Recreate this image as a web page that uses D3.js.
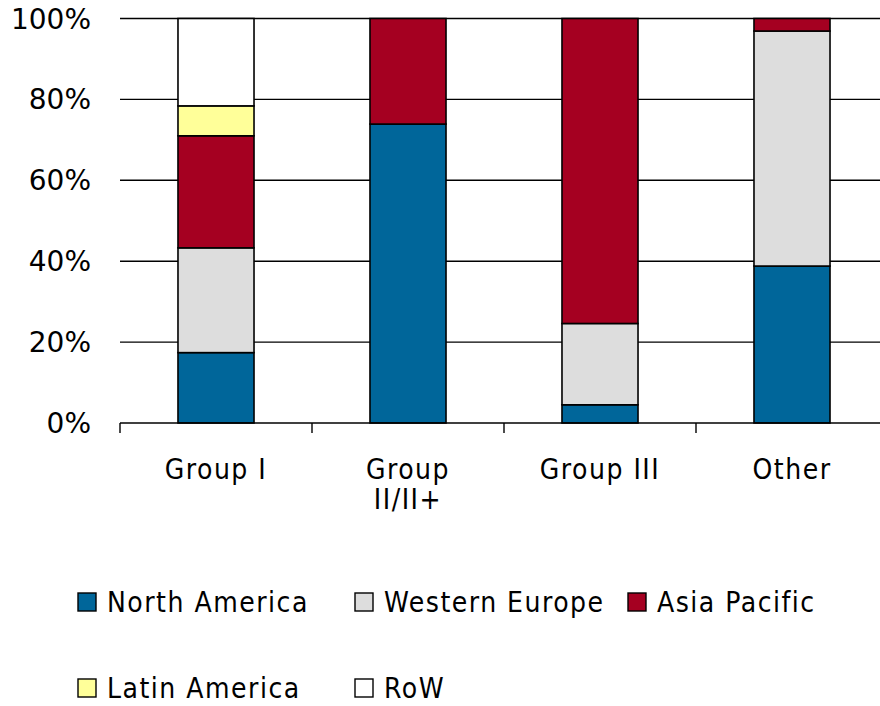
<!DOCTYPE html>
<html><head><meta charset="utf-8">
<script src="https://cdn.jsdelivr.net/npm/d3@7"></script>
<style>
html,body{margin:0;padding:0;background:#fff;}
svg{display:block;}
.nar{font-family:"Liberation Sans Narrow","DejaVu Sans Condensed","Liberation Sans",sans-serif;}
</style></head>
<body>
<svg id="c" width="880" height="706"></svg>
<script>
const categories = ["Group I", "Group II/II+", "Group III", "Other"];
const categoryLabelLines = [["Group I"], ["Group", "II/II+"], ["Group III"], ["Other"]];
const seriesNames = ["North America", "Western Europe", "Asia Pacific", "Latin America", "RoW"];
const northAmerica  = [17.4, 73.9, 4.5, 38.8];
const westernEurope = [25.9, 0, 20.1, 58.1];
const asiaPacific   = [27.7, 26.1, 75.4, 3.1];
const latinAmerica  = [7.4, 0, 0, 0];
const row           = [21.6, 0, 0, 0];
const yTicks = [0, 20, 40, 60, 80, 100];
const colors = ["#00669A", "#DDDDDD", "#A50021", "#FFFF99", "#FFFFFF"];

(function () {
const seriesValues = [northAmerica, westernEurope, asiaPacific, latinAmerica, row];
const table = categories.map((c, i) => {
  const o = {category: c};
  seriesNames.forEach((s, j) => o[s] = seriesValues[j][i]);
  return o;
});

const svg = d3.select("#c");
const pLeft = 120, pRight = 888, pTop = 18.5, pBottom = 423;
const x = d3.scaleBand().domain(categories).range([pLeft, pRight]).paddingInner(0.604).paddingOuter(0.302);
const y = d3.scaleLinear().domain([0, 100]).range([pBottom, pTop]);
const color = d3.scaleOrdinal().domain(seriesNames).range(colors);

svg.append("g").selectAll("line").data(yTicks.filter(t => t > 0)).join("line")
  .attr("x1", pLeft).attr("x2", 880)
  .attr("y1", d => y(d)).attr("y2", d => y(d))
  .attr("stroke", "#000").attr("stroke-width", 1.4);

svg.append("g").selectAll("text").data(yTicks).join("text")
  .attr("x", 91).attr("y", d => y(d) + 10)
  .attr("text-anchor", "end")
  .style("font-family", "'DejaVu Sans', sans-serif").style("font-size", "28px")
  .attr("fill", "#000")
  .text(d => d + "%");

const stacked = d3.stack().keys(seriesNames)(table);
svg.append("g").selectAll("g").data(stacked).join("g")
  .attr("fill", d => color(d.key))
  .selectAll("rect").data(d => d.filter(p => p[1] - p[0] > 0)).join("rect")
  .attr("x", d => x(d.data.category))
  .attr("width", x.bandwidth())
  .attr("y", d => y(d[1]))
  .attr("height", d => y(d[0]) - y(d[1]))
  .attr("stroke", "#000").attr("stroke-width", 1.6);

svg.append("line").attr("x1", pLeft).attr("x2", 880).attr("y1", pBottom).attr("y2", pBottom)
  .attr("stroke", "#000").attr("stroke-width", 1.4);
const boundaries = d3.range(categories.length + 1).map(i => pLeft + i * x.step());
svg.append("g").selectAll("line").data(boundaries).join("line")
  .attr("x1", d => d).attr("x2", d => d).attr("y1", pBottom).attr("y2", pBottom + 10)
  .attr("stroke", "#000").attr("stroke-width", 1.4);

const xl = svg.append("g").attr("class", "nar");
categories.forEach((c, i) => {
  categoryLabelLines[i].forEach((line, k) => {
    xl.append("text")
      .attr("x", x(c) + x.bandwidth() / 2)
      .attr("y", 479 + k * 30)
      .attr("text-anchor", "middle")
      .style("font-size", "28px").style("letter-spacing", "1.5px")
      .attr("fill", "#000").text(line);
  });
});

const legendPos = [[78, 602], [355, 602], [628, 602], [78, 688], [355, 688]];
const lg = svg.append("g").attr("class", "nar");
seriesNames.forEach((s, i) => {
  const [lx, ly] = legendPos[i];
  lg.append("rect").attr("x", lx).attr("y", ly - 9).attr("width", 18).attr("height", 18)
    .attr("fill", color(s)).attr("stroke", "#000").attr("stroke-width", 1.4);
  lg.append("text").attr("x", lx + 29).attr("y", ly + 10)
    .style("font-size", "28px").style("letter-spacing", "1.5px")
    .attr("fill", "#000").text(s);
});
})();
</script>
</body></html>
